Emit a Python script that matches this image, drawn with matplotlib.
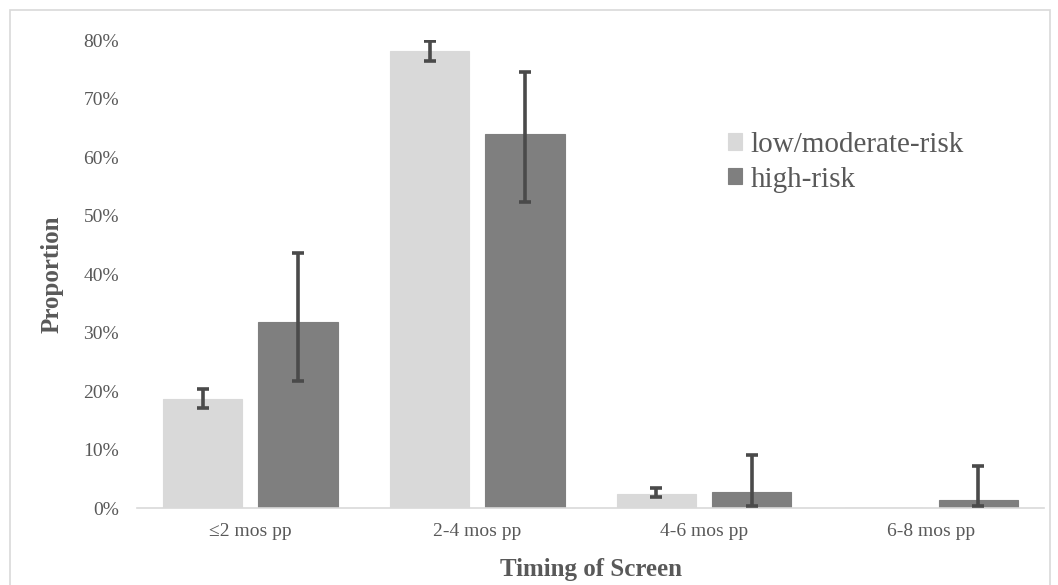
import matplotlib.pyplot as plt
import matplotlib.patches as patches
import numpy as np
from matplotlib.ticker import PercentFormatter

categories = ["\u22642 mos pp", "2-4 mos pp", "4-6 mos pp", "6-8 mos pp"]
series_names = ["low/moderate-risk", "high-risk"]

low_vals = [18.6, 78.1, 2.4, 0.0]
low_err_lo = [17.1, 76.4, 1.8, 0.0]
low_err_hi = [20.3, 79.8, 3.4, 0.0]

high_vals = [31.8, 63.9, 2.7, 1.4]
high_err_lo = [21.7, 52.3, 0.3, 0.3]
high_err_hi = [43.6, 74.5, 9.1, 7.2]

plt.rcParams['font.family'] = ['Liberation Serif', 'DejaVu Serif']
txt = '#595959'

fig = plt.figure(figsize=(10.58, 5.85), dpi=100)
ax = fig.add_axes([0.1295, 0.1316, 0.8575, 0.80])

x = np.arange(len(categories))
w = 0.35
off = 0.21

def draw(vals, lo, hi, pos, color, label):
    vals = np.array(vals)
    yerr = [vals - np.array(lo), np.array(hi) - vals]
    show = np.array(hi) > 0
    ax.bar(pos, vals, w, color=color, edgecolor=color, linewidth=0.8, label=label, zorder=2)
    ax.errorbar(pos[show], vals[show], yerr=[yerr[0][show], yerr[1][show]], fmt='none',
                ecolor='#4a4a4a', elinewidth=2.6, capsize=4.5, capthick=2.6, zorder=3)

draw(low_vals, low_err_lo, low_err_hi, x - off, '#d9d9d9', series_names[0])
draw(high_vals, high_err_lo, high_err_hi, x + off, '#7f7f7f', series_names[1])

ax.set_xlim(-0.5, 3.5)
ax.set_ylim(0, 80)
ax.set_yticks(np.arange(0, 81, 10))
ax.yaxis.set_major_formatter(PercentFormatter(decimals=0))
ax.set_xticks(x)
ax.set_xticklabels(categories)
ax.tick_params(axis='both', length=0, labelsize=14, colors=txt)
ax.tick_params(axis='x', pad=11)
ax.tick_params(axis='y', pad=13)
for s in ['top', 'right', 'left']:
    ax.spines[s].set_visible(False)
ax.spines['bottom'].set_color('#d9d9d9')
ax.spines['bottom'].set_linewidth(1.2)

ax.set_xlabel("Timing of Screen", fontsize=18, fontweight='bold', color=txt, labelpad=13)
ax.set_ylabel("Proportion", fontsize=18, fontweight='bold', color=txt, labelpad=14)

ax.legend(loc='upper left', bbox_to_anchor=(0.622, 0.86), frameon=False, fontsize=21,
          labelcolor=txt, handlelength=0.5, handleheight=0.5, handletextpad=0.3,
          labelspacing=0.3)

fig.patches.append(patches.Rectangle((10 / 1058, -0.05), 1040 / 1058, 1.05 - 10 / 585,
                                     transform=fig.transFigure, fill=False,
                                     edgecolor='#d9d9d9', linewidth=1.2))

fig.savefig("out.png", dpi=100)
